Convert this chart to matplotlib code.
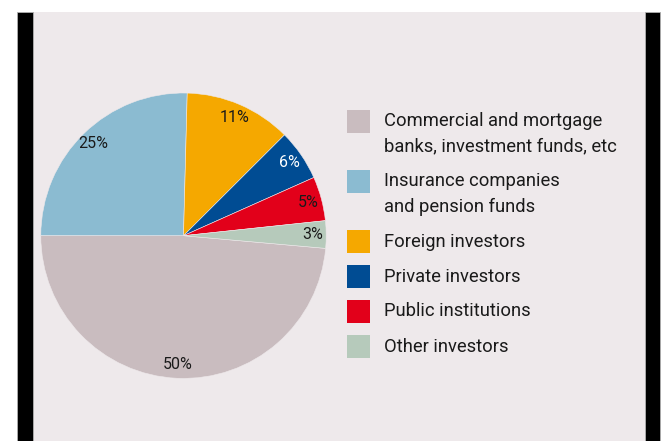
import matplotlib.pyplot as plt
from matplotlib.patches import Rectangle

categories = ["Commercial and mortgage\nbanks, investment funds, etc",
              "Insurance companies\nand pension funds",
              "Foreign investors",
              "Private investors",
              "Public institutions",
              "Other investors"]
shares = [48.6, 25.4, 12.1, 5.8, 5.0, 3.1]
pct_labels = ["50%", "25%", "11%", "6%", "5%", "3%"]
colours = ["#c9bcbf", "#8bbbd1", "#f5a800", "#004c93", "#e2001a", "#b6cabb"]
label_colours = ["#1a1a1a", "#1a1a1a", "#1a1a1a", "#ffffff", "#1a1a1a", "#1a1a1a"]

W, H = 663, 441
panel_col = "#eee9eb"

plt.rcParams['font.family'] = ['Roboto', 'DejaVu Sans']

fig = plt.figure(figsize=(W / 100, H / 100), dpi=100)
fig.patch.set_facecolor("white")


def px_box(x0, y0, x1, y1):
    # pixel box (top-left origin) -> figure fraction rectangle
    return x0 / W, 1 - y1 / H, (x1 - x0) / W, (y1 - y0) / H


# Background panel and the black side bars (kept behind the pie axes)
x, y, w, h = px_box(33, 12, 645, H)
fig.add_artist(Rectangle((x, y), w, h, transform=fig.transFigure, facecolor=panel_col,
                         edgecolor="none", zorder=-5))
for bx0, bx1 in [(17, 33), (645, 660)]:
    x, y, w, h = px_box(bx0, 12, bx1, H)
    fig.add_artist(Rectangle((x, y), w, h, transform=fig.transFigure, facecolor="black",
                             edgecolor="#b0b0b0", linewidth=0.6, zorder=-5))

# Pie
cx, cy, r = 183.5, 235.7, 142.7
ax = fig.add_axes(px_box(cx - r, cy - r, cx + r, cy + r))
ax.set_zorder(2)
wedges, texts = ax.pie(shares, colors=colours, startangle=-5.1, counterclock=False,
                       labels=pct_labels, labeldistance=0.905,
                       wedgeprops={'linewidth': 0.4, 'edgecolor': panel_col},
                       textprops={'fontsize': 11.5})
for t, c in zip(texts, label_colours):
    t.set_color(c)
    t.set_horizontalalignment("center")
    t.set_verticalalignment("center")
ax.set_xlim(-1, 1)
ax.set_ylim(-1, 1)
ax.set_aspect("equal")

# Legend drawn by hand: patch lines up with the first text line
patch_tops = [110, 170, 230, 265, 300, 335]
for top, name, col in zip(patch_tops, categories, colours):
    x, y, w, h = px_box(347, top, 370, top + 23)
    fig.add_artist(Rectangle((x, y), w, h, transform=fig.transFigure, facecolor=col, edgecolor="none"))
    for i, line in enumerate(name.split("\n")):
        fig.text(384 / W, 1 - (top + 11.5 + i * 25) / H, line, fontsize=13.2, color="#1a1a1a",
                 ha="left", va="center")

fig.savefig("out.png", dpi=100, facecolor=fig.get_facecolor())
